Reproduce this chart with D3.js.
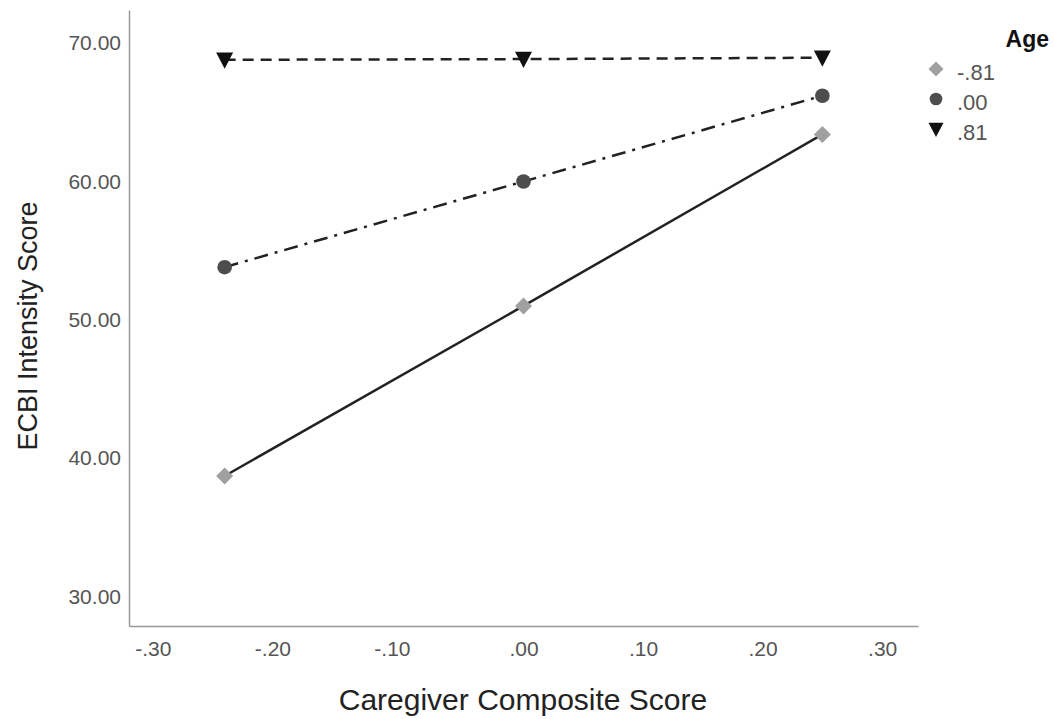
<!DOCTYPE html>
<html lang="en">
<head>
  <meta charset="utf-8">
  <script src="https://d3js.org/d3.v7.min.js"></script>
  <style>
    body { margin: 0; background: #fff; }
    text { font-family: "Liberation Sans", Arial, sans-serif; }
    .tick text { fill: #555; font-size: 21px; }
    .axis-title { fill: #222; }
    .legend text { fill: #555; font-size: 22px; }
  </style>
</head>
<body>
<script>
  // x positions (caregiver composite score)
  var xValues = [-0.25, 0.00, 0.25];
  var xTicks = [-0.3, -0.2, -0.1, 0.0, 0.1, 0.2, 0.3];
  var yTicks = [30, 40, 50, 60, 70];

  // ECBI intensity score for each age level
  var ageLabels = ["-.81", ".00", ".81"];
  var ageLow = [38.7, 51.0, 63.4];
  var ageMid = [53.8, 60.0, 66.2];
  var ageHigh = [68.8, 68.85, 68.95];

  var series = [
    { label: ageLabels[0], values: ageLow, symbol: "diamond", fill: "#a0a0a0", dash: null },
    { label: ageLabels[1], values: ageMid, symbol: "circle", fill: "#4d4d4d", dash: "14,7,3,7" },
    { label: ageLabels[2], values: ageHigh, symbol: "tri", fill: "#111", dash: "11,7" }
  ];

  var w = 1054, h = 719;
  var svg = d3.select("body").append("svg")
    .attr("width", w)
    .attr("height", h);

  var x = d3.scaleLinear().domain([-0.33, 0.33]).range([129, 918]);
  var y = d3.scaleLinear().domain([27.85, 72.4]).range([626, 10]);

  function fmt(d) {
    var s = d3.format(".2f")(d).replace("\u2212", "-");
    return s.replace(/^(-?)0\./, "$1.");
  }

  // x axis
  var gx = svg.append("g").attr("transform", "translate(0,626)")
    .call(d3.axisBottom(x).tickValues(xTicks).tickSize(0).tickPadding(15).tickFormat(fmt));
  gx.select(".domain").attr("stroke", "#999").attr("stroke-width", 1.5);
  gx.selectAll(".tick text").attr("dx", function (d) { return d < 0 ? -12 : 0; });

  // y axis
  var gy = svg.append("g").attr("transform", "translate(129,0)")
    .call(d3.axisLeft(y).tickValues(yTicks).tickSize(0).tickPadding(8).tickFormat(d3.format(".2f")));
  gy.select(".domain").attr("stroke", "#999").attr("stroke-width", 1.5);

  svg.append("text").attr("class", "axis-title")
    .attr("x", 523).attr("y", 710).attr("text-anchor", "middle")
    .style("font-size", "30px")
    .text("Caregiver Composite Score");

  svg.append("text").attr("class", "axis-title")
    .attr("transform", "translate(37,326) rotate(-90)")
    .attr("text-anchor", "middle")
    .style("font-size", "27px")
    .text("ECBI Intensity Score");

  var line = d3.line()
    .x(function (d, i) { return x(xValues[i]); })
    .y(function (d) { return y(d); });

  function drawSymbol(sel, s, size) {
    var p;
    if (s.symbol === "tri") {
      var a = size / 2;
      p = "M" + (-a) + "," + (-a * 0.85) + "L" + a + "," + (-a * 0.85) + "L0," + (a * 1.05) + "Z";
    } else if (s.symbol === "diamond") {
      var b = size / 2;
      p = "M0," + (-b) + "L" + b + ",0L0," + b + "L" + (-b) + ",0Z";
    } else {
      p = d3.symbol().type(d3.symbolCircle).size(Math.PI * size * size / 4 * 0.95)();
    }
    sel.append("path").attr("d", p).attr("fill", s.fill);
  }

  series.forEach(function (s) {
    svg.append("path")
      .attr("d", line(s.values))
      .attr("fill", "none")
      .attr("stroke", "#222")
      .attr("stroke-width", 2.5)
      .attr("stroke-dasharray", s.dash);
  });

  series.forEach(function (s) {
    s.values.forEach(function (v, i) {
      var g = svg.append("g").attr("transform", "translate(" + x(xValues[i]) + "," + y(v) + ")");
      drawSymbol(g, s, s.symbol === "circle" ? 15 : 17);
    });
  });

  // legend
  var lg = svg.append("g").attr("class", "legend");
  lg.append("text").attr("x", 1049).attr("y", 47).attr("text-anchor", "end")
    .style("font-weight", "bold").style("fill", "#111").style("font-size", "23px")
    .text("Age");
  series.forEach(function (s, i) {
    var yy = 69 + i * 30;
    var g = lg.append("g").attr("transform", "translate(936," + yy + ")");
    drawSymbol(g, s, s.symbol === "circle" ? 13 : 15);
    lg.append("text").attr("x", 957).attr("y", yy + 11).text(s.label);
  });
</script>
</body>
</html>
